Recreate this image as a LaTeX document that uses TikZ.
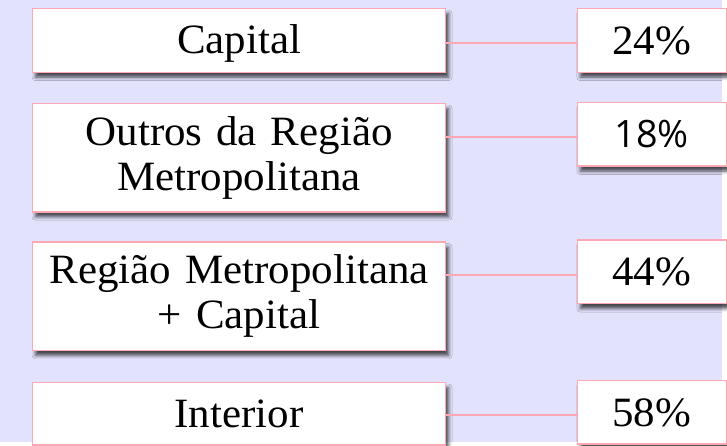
\documentclass[tikz,border=0pt]{standalone}
\usepackage{fontspec}
\setmainfont{Liberation Serif}[FakeStretch=1.03,WordSpace=0.6]
\newfontfamily\altSans{Open Sans}
\usepackage{xcolor}
\definecolor{bgLavender}{HTML}{E2E2FC}
\definecolor{pinkLine}{HTML}{FFA8B4}
\usepackage{tikz}
\usetikzlibrary{positioning,shadows.blur}
\tikzset{
  placeBox/.style={
    rectangle,
    draw=pinkLine,
    line width=1.5pt,
    fill=white,
    minimum width=416pt,
    text width=400pt,
    inner sep=0pt,
    align=center,
    font=\fontsize{42}{45}\selectfont,
    blur shadow={shadow xshift=3pt,shadow yshift=-5pt,shadow blur radius=3.5pt,shadow opacity=70}
 },
  valueBox/.style={
    rectangle,
    draw=pinkLine,
    line width=1.5pt,
    fill=white,
    minimum width=150pt,
    minimum height=64pt,
    inner sep=0pt,
    align=center,
    font=\fontsize{42}{45}\selectfont,
    blur shadow={shadow xshift=3pt,shadow yshift=-5pt,shadow blur radius=3.5pt,shadow opacity=70}
 },
  linkLine/.style={
    draw=pinkLine,
    line width=2pt,
    transform canvas={yshift=-3pt}
 }
}
\begin{document}
\begin{tikzpicture}[x=1pt,y=1pt]

            % Background
            \fill[bgLavender] (0,0) rectangle (727,-445);

            % Left column: regions
            \node[placeBox, minimum height=64pt, anchor=north west] (capital) at (32,-8) {\raisebox{-3pt}[\height][\depth]{Capital}};
            \node[placeBox, minimum height=109pt, below=30pt of capital] (outros) {Outros da Região\\Metropolitana};
            \node[placeBox, minimum height=109pt, below=29pt of outros] (rmcap) {Região Metropolitana\\+ Capital};
            \node[placeBox, minimum height=63pt, below=31pt of rmcap] (interior) {Interior};

            % Right column: shares
            \node[valueBox, right=131pt of capital] (pcCapital) {24\%};
            \node[valueBox, below=29pt of pcCapital] (pcOutros) {\altSans\fontsize{38}{45}\selectfont 18\%};
            \node[valueBox, below=73pt of pcOutros] (pcRmcap) {44\%};
            \node[valueBox, below=76pt of pcRmcap] (pcInterior) {58\%};

            % Links
            \draw[linkLine] (pcCapital.west) -- (pcCapital.west -| capital.east);
            \draw[linkLine] (pcOutros.west) -- (pcOutros.west -| outros.east);
            \draw[linkLine] (pcRmcap.west) -- (pcRmcap.west -| rmcap.east);
            \draw[linkLine] (pcInterior.west) -- (pcInterior.west -| interior.east);

        \end{tikzpicture}
\end{document}
